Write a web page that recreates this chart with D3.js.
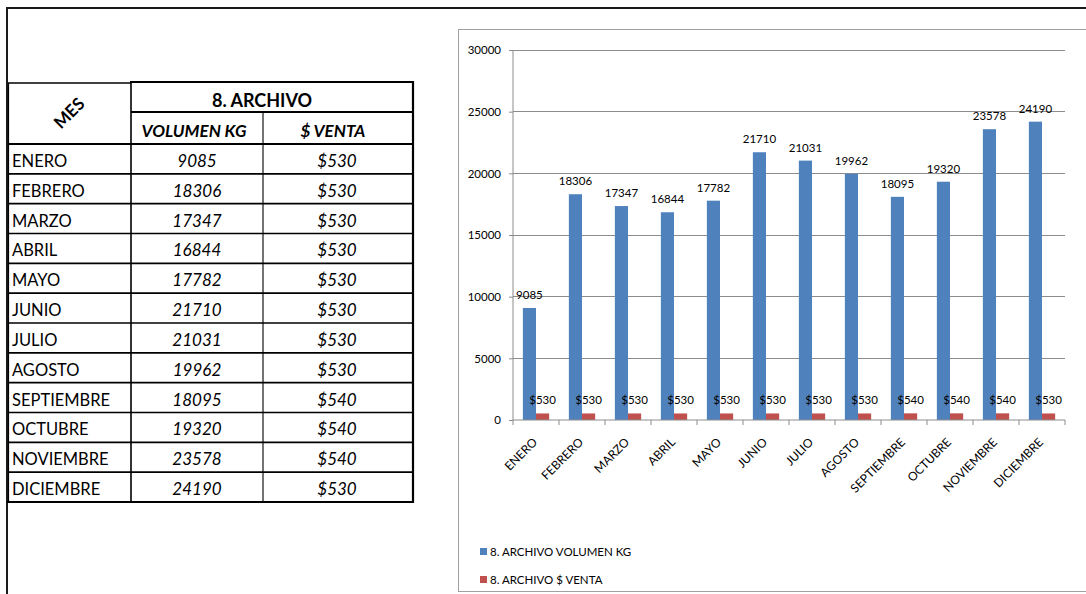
<!DOCTYPE html>
<html>
<head>
<meta charset="utf-8">
<script src="https://cdn.jsdelivr.net/npm/d3@7"></script>
<style>
  html, body { margin: 0; padding: 0; background: #fff; }
  svg { display: block; font-family: Lato, "Open Sans", sans-serif; }
</style>
</head>
<body>
<svg id="c" width="1086" height="594"></svg>
<script>
// ---- data ----
const months = ["ENERO","FEBRERO","MARZO","ABRIL","MAYO","JUNIO","JULIO","AGOSTO","SEPTIEMBRE","OCTUBRE","NOVIEMBRE","DICIEMBRE"];
const volumenKg = [9085,18306,17347,16844,17782,21710,21031,19962,18095,19320,23578,24190];
const venta = [530,530,530,530,530,530,530,530,540,540,540,530];
const seriesNames = ["8. ARCHIVO VOLUMEN KG","8. ARCHIVO $ VENTA"];
const yTicks = [0,5000,10000,15000,20000,25000,30000];
const tableTitle = "8. ARCHIVO";
const colHeaders = ["VOLUMEN KG","$ VENTA"];
const rowHeader = "MES";

const blue = "#4F81BD", red = "#C0504D";
const svg = d3.select("#c");

// ---- page borders ----
svg.append("line").attr("x1",6).attr("x2",1086).attr("y1",8).attr("y2",8).attr("stroke","#1a1a1a").attr("stroke-width",2);
svg.append("line").attr("x1",7).attr("x2",7).attr("y1",7).attr("y2",594).attr("stroke","#1a1a1a").attr("stroke-width",2);

// ---- table ----
const cx = [8,131,263,413];
const rTop = 82, rH2 = 112, rD0 = 144, rEnd = 502;
const rowY = d3.scaleBand().domain(months).range([rD0, rEnd]);
const T = svg.append("g").attr("class","table");

function hline(x1,x2,y,w){ T.append("line").attr("x1",x1).attr("x2",x2).attr("y1",y).attr("y2",y).attr("stroke","#000").attr("stroke-width",w); }
function vline(x,y1,y2,w){ T.append("line").attr("x1",x).attr("x2",x).attr("y1",y1).attr("y2",y2).attr("stroke","#000").attr("stroke-width",w); }

hline(cx[1]-1,cx[3]+1,rTop,2.2);
hline(cx[0],cx[1],rTop+1,1.5);
hline(cx[1],cx[3],rH2,2);
hline(cx[0],cx[3],rD0,1.8);
months.forEach((m,i)=>{ if(i>0) hline(cx[0],cx[3],rowY(m),1.6); });
hline(cx[0]-1,cx[3]+1,rEnd,2.2);
vline(cx[0]+0.5,rTop+1,rEnd,1.2);
vline(cx[1],rTop,rEnd,1.6);
vline(cx[2],rH2,rEnd,1.1);
vline(cx[3],rTop-1,rEnd+1,2.2);

T.append("text").attr("transform","translate(69,113) rotate(-45)")
  .attr("text-anchor","middle").attr("dy","0.36em")
  .attr("font-weight","bold").attr("font-size",17).text(rowHeader);
T.append("text").attr("x",262).attr("y",107).attr("text-anchor","middle")
  .attr("font-weight","bold").attr("font-size",18).text(tableTitle);
T.selectAll("text.ch").data(colHeaders).enter().append("text").attr("class","ch")
  .attr("x",(d,i)=> i===0 ? 194 : 333).attr("y",137).attr("text-anchor","middle")
  .attr("font-weight","bold").attr("font-style","italic").attr("font-size",17).text(d=>d);

const rows = T.selectAll("g.row").data(months).enter().append("g").attr("class","row");
rows.append("text").attr("x",12).attr("y",m=>rowY(m)+rowY.bandwidth()-7)
  .attr("font-size",16.5).text(m=>m);
rows.append("text").attr("x",197).attr("y",m=>rowY(m)+rowY.bandwidth()-7)
  .attr("text-anchor","middle").attr("font-style","italic").attr("font-size",17)
  .text((m,i)=>volumenKg[i]);
rows.append("text").attr("x",337).attr("y",m=>rowY(m)+rowY.bandwidth()-7)
  .attr("text-anchor","middle").attr("font-style","italic").attr("font-size",17)
  .text((m,i)=>"$"+venta[i]);

// ---- chart ----
svg.append("rect").attr("x",458.5).attr("y",29.5).attr("width",640).attr("height",562)
  .attr("fill","none").attr("stroke","#a0a0a0").attr("stroke-width",1);

const x = d3.scaleBand().domain(months).range([513,1065]).padding(0);
const x1 = d3.scaleBand().domain([0,1]).range([0,x.bandwidth()]).paddingInner(0).paddingOuter(0.75);
const y = d3.scaleLinear().domain([0,30000]).range([420,50]);

const C = svg.append("g").attr("class","chart");
// gridlines
C.selectAll("line.grid").data(yTicks.filter(t=>t>0)).enter().append("line").attr("class","grid")
  .attr("x1",513).attr("x2",1065).attr("y1",d=>y(d)).attr("y2",d=>y(d))
  .attr("stroke","#8c8c8c").attr("stroke-width",1).attr("shape-rendering","crispEdges");

// y axis
const yAxis = d3.axisLeft(y).tickValues(yTicks).tickSize(4).tickPadding(8).tickFormat(d3.format("d"));
const gy = C.append("g").attr("transform","translate(513,0)").call(yAxis);
gy.select(".domain").attr("stroke","#8c8c8c").attr("d","M0,"+y(30000)+"V"+y(0));
gy.selectAll(".tick line").attr("stroke","#8c8c8c");
gy.selectAll(".tick text").attr("font-family","Lato, sans-serif").attr("font-size",11.5).attr("fill","#000");

// bars
const bars = C.selectAll("g.cat").data(months).enter().append("g").attr("class","cat")
  .attr("transform",m=>"translate("+x(m)+",0)");
bars.append("rect").attr("x",x1(0)).attr("width",x1.bandwidth())
  .attr("y",(m,i)=>y(volumenKg[i])).attr("height",(m,i)=>y(0)-y(volumenKg[i]))
  .attr("fill",blue);
bars.append("rect").attr("x",x1(1)).attr("width",x1.bandwidth())
  .attr("y",(m,i)=>y(venta[i])).attr("height",(m,i)=>y(0)-y(venta[i]))
  .attr("fill",red);
bars.append("text").attr("x",x1(0)+x1.bandwidth()/2).attr("y",(m,i)=>y(volumenKg[i])-9)
  .attr("text-anchor","middle").attr("font-size",11.5).text((m,i)=>volumenKg[i]);
bars.append("text").attr("x",x1(1)+x1.bandwidth()/2).attr("y",(m,i)=>y(venta[i])-9)
  .attr("text-anchor","middle").attr("font-size",11.5).text((m,i)=>"$"+venta[i]);

// x axis
const xAxis = d3.axisBottom(x).tickSize(0).tickPadding(0);
const gx = C.append("g").attr("transform","translate(0,420)").call(xAxis);
gx.select(".domain").attr("stroke","#8c8c8c").attr("d","M513,0H1065");
gx.selectAll(".tick text").attr("font-family","Lato, sans-serif").attr("font-size",12).attr("fill","#000")
  .attr("text-anchor","end").attr("dy",0).attr("y",0)
  .attr("transform","translate(2,23) rotate(-45)");
C.selectAll("line.xt").data(months.concat(["_end"])).enter().append("line").attr("class","xt")
  .attr("x1",(m,i)=> i<months.length ? x(m) : x.range()[1])
  .attr("x2",(m,i)=> i<months.length ? x(m) : x.range()[1])
  .attr("y1",420).attr("y2",425).attr("stroke","#8c8c8c");

// legend
const lg = C.selectAll("g.lg").data(seriesNames).enter().append("g").attr("class","lg")
  .attr("transform",(d,i)=>"translate(480,"+(548+i*28)+")");
lg.append("rect").attr("width",7).attr("height",7).attr("fill",(d,i)=> i===0?blue:red);
lg.append("text").attr("x",10).attr("y",3.5).attr("dy","0.36em").attr("font-size",11.5).text(d=>d);
</script>
</body>
</html>
